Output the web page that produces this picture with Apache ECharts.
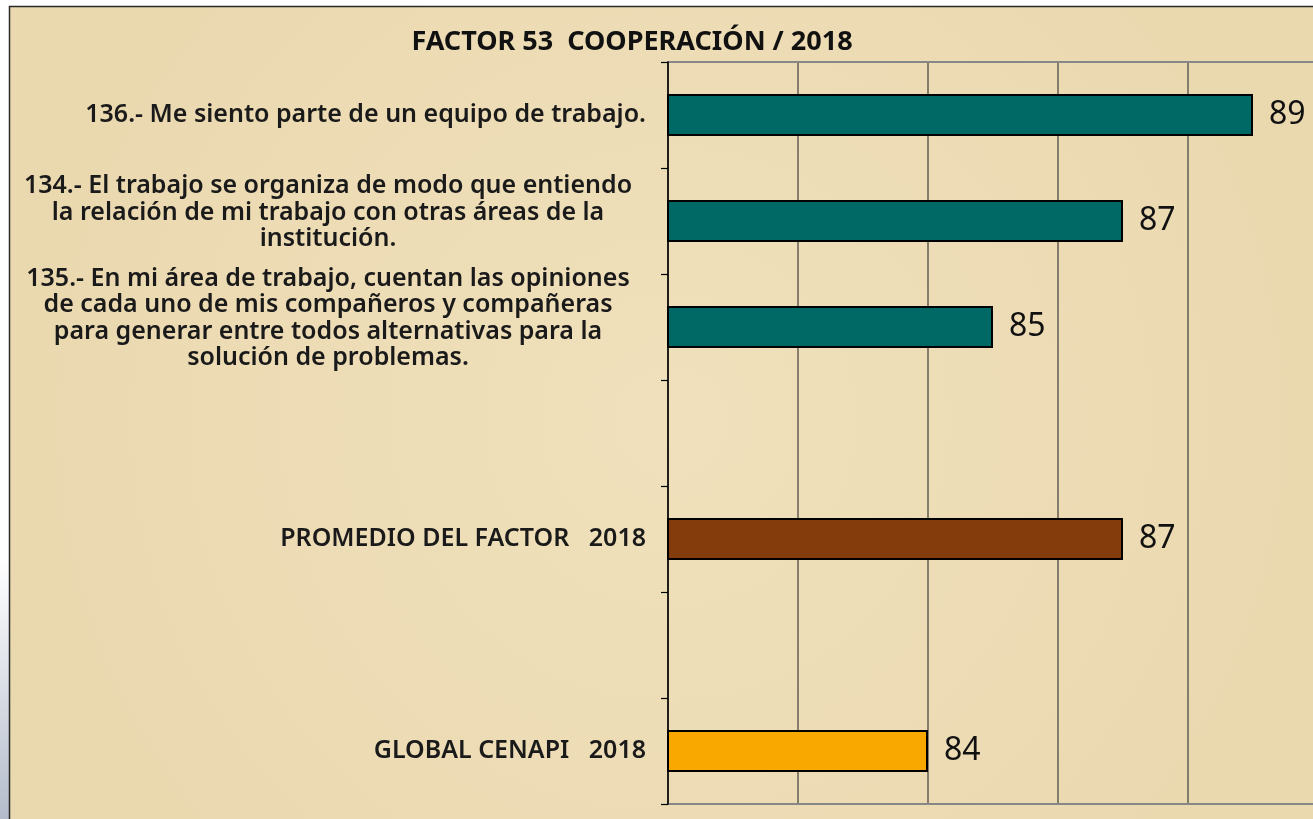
<!DOCTYPE html>
<html>
<head>
<meta charset="utf-8">
<title>Factor 53 Cooperación 2018</title>
<script src="https://cdn.jsdelivr.net/npm/echarts@6/dist/echarts.min.js"></script>
<style>
  html, body { margin: 0; padding: 0; background: #fff; overflow: hidden; }
  /* el área del gráfico sobresale unos px a la derecha, como en el original */
  #chart { width: 1318px; height: 819px; }
</style>
</head>
<body>
<div id="chart"></div>
<script>
// datos del gráfico (de arriba hacia abajo)
const titleText = 'FACTOR 53  COOPERACIÓN / 2018';
const categories = [
  '136.- Me siento parte de un equipo de trabajo.',
  '134.- El trabajo se organiza de modo que entiendo\nla relación de mi trabajo con otras áreas de la\ninstitución.',
  '135.- En mi área de trabajo, cuentan las opiniones\nde cada uno de mis compañeros y compañeras\npara generar entre todos alternativas para la\nsolución de problemas.',
  ' ',
  'PROMEDIO DEL FACTOR   2018',
  '  ',
  'GLOBAL CENAPI   2018'
];
const values = [89, 87, 85, null, 87, null, 84];
const barColors = ['#006966', '#006966', '#006966', null, '#843C0C', null, '#F9A800'];
const axisMin = 80;
const axisMax = 90;
const axisStep = 2;

const FONT = '"Noto Sans", "DejaVu Sans", sans-serif';

const chart = echarts.init(document.getElementById('chart'));

chart.setOption({
  backgroundColor: '#ffffff',
  animation: false,
  title: {
    text: titleText,
    left: 627,
    top: 24,
    textAlign: 'center',
    textStyle: { fontFamily: FONT, fontSize: 27, fontWeight: 'bold', color: '#111' }
  },
  // fondo tipo pergamino + marco
  graphic: [
    {
      type: 'rect', z: -10, silent: true,
      shape: { x: 0, y: 560, width: 9, height: 259 },
      style: {
        fill: new echarts.graphic.LinearGradient(0, 0, 0, 1, [
          { offset: 0, color: '#ffffff' },
          { offset: 1, color: '#b4bccb' }
        ])
      }
    },
    {
      type: 'rect', z: -10, silent: true,
      shape: { x: 9.5, y: 6.5, width: 1320, height: 830 },
      style: {
        fill: new echarts.graphic.RadialGradient(0.5, 0.5, 0.8, [
          { offset: 0, color: '#F0E1BC' },
          { offset: 1, color: '#EAD8AF' }
        ]),
        stroke: '#2a2a2a',
        lineWidth: 1.5
      }
    }
  ],
  grid: {
    left: 668, right: 0, top: 62, bottom: 15
  },
  xAxis: [
    {
      type: 'value',
      min: axisMin, max: axisMax, interval: axisStep,
      axisLabel: { show: false },
      axisTick: { show: false },
      axisLine: { show: true, onZero: false, lineStyle: { color: '#878787', width: 2 } },
      splitLine: { show: true, lineStyle: { color: '#625e55', width: 1.5 } }
    },
    {
      // borde superior del área de trazado
      type: 'value',
      position: 'top',
      min: axisMin, max: axisMax, interval: axisStep,
      axisLabel: { show: false },
      axisTick: { show: false },
      axisLine: { show: true, onZero: false, lineStyle: { color: '#878787', width: 2 } },
      splitLine: { show: false }
    }
  ],
  yAxis: {
    type: 'category',
    inverse: true,
    data: categories,
    z: 5,
    axisLine: { show: true, lineStyle: { color: '#000', width: 1.5 } },
    axisTick: { show: true, length: 7, lineStyle: { color: '#000', width: 1.2 } },
    axisLabel: {
      interval: 0,
      margin: 22,
      fontFamily: FONT,
      fontSize: 25,
      fontWeight: 600,
      color: '#1a1a1a',
      formatter: (v) => {
        if (v.indexOf('\n') < 0) return v;
        return v.split('\n').map(l => '{c|' + l + '}').join('\n') + '\n{s| }';
      },
      rich: {
        c: { width: 636, align: 'center', fontFamily: FONT, fontSize: 25, fontWeight: 600, color: '#1a1a1a', lineHeight: 26.5 },
        s: { fontSize: 10, lineHeight: 17 }
      }
    }
  },
  series: [{
    type: 'bar',
    barWidth: 42,
    data: values.map((v, i) => v == null ? '-' : { value: v, itemStyle: { color: barColors[i] } }),
    itemStyle: { borderColor: '#000', borderWidth: 2 },
    label: {
      show: true,
      position: 'right',
      distance: 16,
      fontFamily: FONT,
      fontSize: 32,
      color: '#111'
    }
  }]
});
</script>
</body>
</html>
